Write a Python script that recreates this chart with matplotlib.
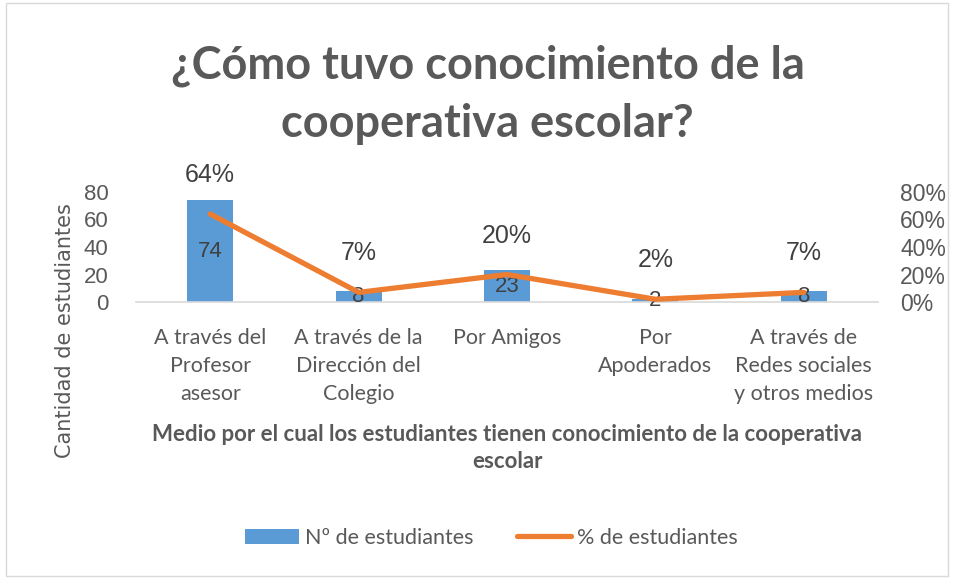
import matplotlib
matplotlib.use("Agg")
import matplotlib.pyplot as plt
from matplotlib.patches import Rectangle
from matplotlib.lines import Line2D
from matplotlib.patches import Patch

categories = ["A través del\nProfesor\nasesor", "A través de la\nDirección del\nColegio",
              "Por Amigos", "Por\nApoderados", "A través de\nRedes sociales\ny otros medios"]
counts = [74, 8, 23, 2, 8]
percents = [0.64, 0.07, 0.20, 0.02, 0.07]
pct_labels = ["64%", "7%", "20%", "2%", "7%"]
left_ticks = [0, 20, 40, 60, 80]
right_ticks = [0, 0.2, 0.4, 0.6, 0.8]

TXT = "#595959"
BLUE = "#5B9BD5"
ORANGE = "#ED7D31"
CAL = ["Lato", "DejaVu Sans"]
NUM = ["Liberation Sans", "DejaVu Sans"]

fig = plt.figure(figsize=(9.54, 5.79), dpi=100)
fig.patch.set_facecolor("white")
fig.add_artist(Rectangle((0.006, 0.006), 0.988, 0.988, transform=fig.transFigure,
                         fill=False, edgecolor="#D9D9D9", linewidth=1))

ax = fig.add_axes([0.1426, 0.4784, 0.7778, 0.19])
x = list(range(len(categories)))
ax.bar(x, counts, width=0.31, color=BLUE, zorder=2)
ax.set_xlim(-0.5, 4.5)
ax.set_ylim(0, 80)
ax.set_yticks(left_ticks)
ax.set_yticklabels([str(v) for v in left_ticks], fontsize=16, color=TXT, family=NUM)
ax.set_xticks(x)
ax.set_xticklabels(categories, fontsize=15.5, color=TXT, family=CAL, linespacing=1.5)
ax.tick_params(axis="both", length=0)
ax.tick_params(axis="x", pad=19)
ax.tick_params(axis="y", pad=20)
for s in ["top", "right", "left"]:
    ax.spines[s].set_visible(False)
ax.spines["bottom"].set_color("#D9D9D9")
ax.spines["bottom"].set_linewidth(1.2)
ax.set_ylabel("Cantidad de estudiantes", fontsize=15, color=TXT, family=["DejaVu Sans"])
ax.yaxis.set_label_coords(-0.082, -0.26)
ax.set_xlabel("Medio por el cual los estudiantes tienen conocimiento de la cooperativa\nescolar",
              fontsize=16, color=TXT, fontweight="bold", family=CAL, labelpad=14, linespacing=1.35)

for xi, c in zip(x, counts):
    ax.text(xi, c / 2, str(c), ha="center", va="center", fontsize=16, color="#404040", family=NUM, zorder=5)

ax2 = ax.twinx()
ax2.plot(x, percents, color=ORANGE, linewidth=3.8, solid_capstyle="round", zorder=3)
ax2.set_ylim(0, 0.8)
ax2.set_yticks(right_ticks)
ax2.set_yticklabels([f"{int(round(v*100))}%" for v in right_ticks], fontsize=16.5, color=TXT, family=NUM)
ax2.tick_params(axis="y", length=0, pad=16)
for s in ["top", "right", "left", "bottom"]:
    ax2.spines[s].set_visible(False)
for xi, p, lab in zip(x, percents, pct_labels):
    ax2.annotate(lab, (xi, p), xytext=(0, 28), textcoords="offset points",
                 ha="center", va="center", fontsize=18, color="#404040", family=NUM)

fig.text(0.511, 0.836, "¿Cómo tuvo conocimiento de la\ncooperativa escolar?", ha="center", va="center",
         fontsize=32.5, fontweight="bold", color=TXT, family=CAL, linespacing=1.48)

handles = [Patch(facecolor=BLUE, edgecolor="none"),
           Line2D([0], [0], color=ORANGE, linewidth=3.8, solid_capstyle="round")]
fig.legend(handles, ["Nº de estudiantes", "% de estudiantes"], loc="center",
           bbox_to_anchor=(0.515, 0.071), ncol=2, frameon=False,
           prop={"family": CAL, "size": 15.5}, labelcolor=TXT, handlelength=2.5,
           handletextpad=0.3, columnspacing=2.0)

fig.savefig("out.png", dpi=100, facecolor="white")
